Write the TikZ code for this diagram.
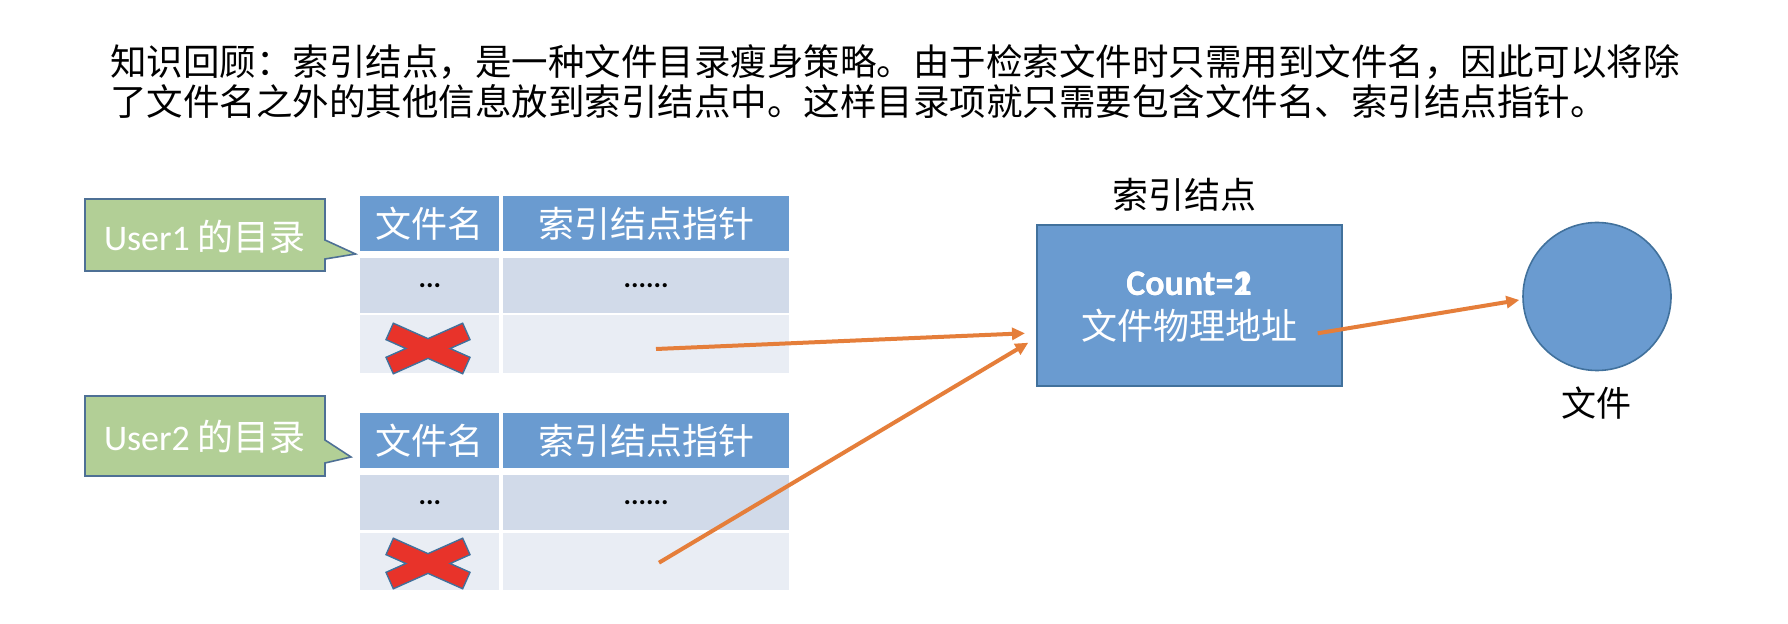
\documentclass[tikz,border=0pt]{standalone}
\usepackage{fontspec}
\setmainfont{Noto Sans CJK SC}
\newfontfamily\calfont{Carlito}
\usetikzlibrary{arrows.meta}
\definecolor{hdrblue}{HTML}{6A9BD0}
\definecolor{rowa}{HTML}{D1DAE9}
\definecolor{rowb}{HTML}{E9EDF4}
\definecolor{edgeblue}{HTML}{41719C}
\definecolor{calgreen}{HTML}{B2CF96}
\definecolor{caledge}{HTML}{4E7095}
\definecolor{arrorange}{HTML}{E57E3A}
\definecolor{xred}{HTML}{E8332A}
\tikzset{
  txt/.style={inner sep=0pt, font=\fontsize{18.25pt}{22pt}\selectfont},
  cell/.style={anchor=north west, inner sep=0pt, draw=none, minimum height=27.75pt},
  hdrcell/.style={cell, fill=hdrblue, text=white, minimum height=27.5pt, font=\fontsize{18pt}{22pt}\selectfont},
  rowacell/.style={cell, fill=rowa, font=\calfont\bfseries\fontsize{14pt}{16pt}\selectfont},
  rowbcell/.style={cell, fill=rowb},
  colone/.style={minimum width=69.5pt},
  coltwo/.style={minimum width=143.25pt},
  orangearrow/.style={draw=arrorange, line width=2pt, -{Triangle[length=6.5pt,width=6pt]}},
  calbox/.style={fill=calgreen, draw=caledge, line width=0.8pt},
  caltext/.style={inner sep=0pt, text=white, font=\fontsize{18pt}{22pt}\selectfont},
  bluebox/.style={fill=hdrblue, draw=edgeblue, line width=0.8pt},
  crossmark/.pic={
    \fill[xred, draw=edgeblue, line width=0.7pt]
      (42,8.85) -- (34.68,25.29) -- (0,9.85) -- (-34.68,25.29) -- (-42,8.85) -- (-22.12,0)
      -- (-42,-8.85) -- (-34.68,-25.29) -- (0,-9.85) -- (34.68,-25.29) -- (42,-8.85) -- (22.12,0) -- cycle;
  }
}
\begin{document}
\begin{tikzpicture}[x=0.5pt,y=-0.5pt]
\useasboundingbox[fill=white] (0,0) rectangle (1788,624);

% title
\node[txt, anchor=west] (title1) at (110,62) {知识回顾：索引结点，是一种文件目录瘦身策略。由于检索文件时只需用到文件名，因此可以将除};
\node[txt, anchor=west] (title2) at (110,102) {了文件名之外的其他信息放到索引结点中。这样目录项就只需要包含文件名、索引结点指针。};

% callout 1
\path[calbox] (85,199) -- (325,199) -- (325,240) -- (355.5,254) -- (325,259) -- (325,271) -- (85,271) -- cycle;
\node[caltext] (call1) at (205,237) {{\calfont User1} 的目录};

% table 1
\node[hdrcell, colone] (t1h1) at (360,196) {文件名};
\node[hdrcell, coltwo] (t1h2) at (502.5,196) {索引结点指针};
\node[rowacell, colone] (t1r1) at (360,257.3) {...};
\node[rowacell, coltwo] (t1r2) at (502.5,257.3) {......};
\node[rowbcell, colone, minimum height=28.65pt] (t1s1) at (360,315) {};
\node[rowbcell, coltwo, minimum height=28.65pt] (t1s2) at (502.5,315) {};
\pic at (428,348.5) {crossmark};

% callout 2
\path[calbox] (85,396) -- (325,396) -- (325,440) -- (351,457) -- (325,463) -- (325,476) -- (85,476) -- cycle;
\node[caltext] (call2) at (205,437) {{\calfont User2} 的目录};

% table 2
\node[hdrcell, colone] (t2h1) at (360,412.7) {文件名};
\node[hdrcell, coltwo] (t2h2) at (502.5,412.7) {索引结点指针};
\node[rowacell, colone] (t2r1) at (360,474.3) {...};
\node[rowacell, coltwo] (t2r2) at (502.5,474.3) {......};
\node[rowbcell, colone, minimum height=28.5pt] (t2s1) at (360,532.3) {};
\node[rowbcell, coltwo, minimum height=28.5pt] (t2s2) at (502.5,532.3) {};
\pic at (428,563.5) {crossmark};

% inode
\node[txt, font=\fontsize{18pt}{22pt}\selectfont] (inodelbl) at (1184,195) {索引结点};
\node[bluebox, minimum width=152.5pt, minimum height=80.5pt] (inode) at (1189.2,305.5) {};
\node[inner sep=0pt, text=white, font=\calfont\bfseries\fontsize{18pt}{22pt}\selectfont] (cnt1) at (1189,284) {Count=1};
\node[inner sep=0pt, text=white, font=\calfont\bfseries\fontsize{18pt}{22pt}\selectfont] (cnt2) at (1189,284) {Count=2};
\node[caltext] (addr) at (1189,326) {文件物理地址};

% file
\node[circle, bluebox, minimum size=74pt, inner sep=0pt] (file) at (1597,296.5) {};
\node[txt, font=\fontsize{17.5pt}{22pt}\selectfont] (filelbl) at (1596,403) {文件};

% arrows
\coordinate (s1) at (656,349);
\coordinate (e1) at (1025,333.3);
\coordinate (s2) at (659,562.7);
\coordinate (e2) at (1028.3,342.7);
\coordinate (s3) at (1317.7,333.3);
\coordinate (e3) at (1519.3,300);
\draw[orangearrow] (s1) -- (e1);
\draw[orangearrow] (s2) -- (e2);
\draw[orangearrow] (s3) -- (e3);
\end{tikzpicture}
\end{document}
